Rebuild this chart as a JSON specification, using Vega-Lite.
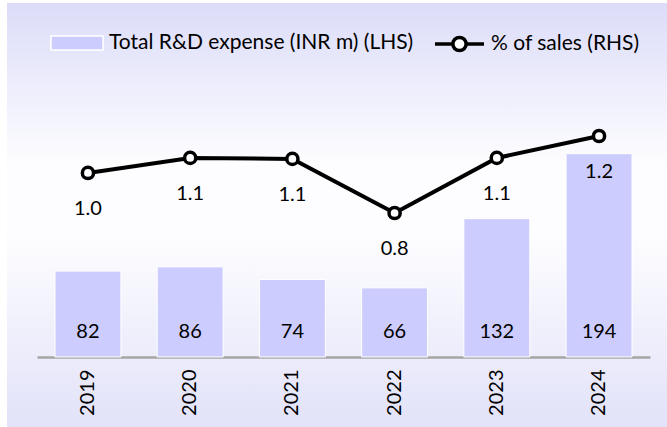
{
  "$schema": "https://vega.github.io/schema/vega-lite/v6.json",
  "width": 660,
  "height": 424,
  "autosize": {"type": "none"},
  "padding": {"left": 7, "top": 3, "right": 0, "bottom": 0},
  "background": "#ffffff",
  "view": {
    "stroke": null,
    "fill": {"expr": "{gradient: 'linear', x1: 0, y1: 0, x2: 0, y2: 1, stops: [{offset: 0, color: '#dcdcf9'}, {offset: 0.38, color: '#fdfdff'}, {offset: 0.55, color: '#fdfdff'}, {offset: 1, color: '#e2e2f9'}]}"}
  },
  "config": {
    "font": "Lato",
    "text": {"font": "Lato", "fontSize": 20, "color": "#000000"},
    "axis": {"labelFont": "Lato"},
    "legend": {"labelFont": "Lato"}
  },
  "data": {
    "values": [
      {"year": "2019", "rd": 82, "pct": 1.008},
      {"year": "2020", "rd": 86, "pct": 1.086},
      {"year": "2021", "rd": 74, "pct": 1.081},
      {"year": "2022", "rd": 66, "pct": 0.8},
      {"year": "2023", "rd": 132, "pct": 1.086},
      {"year": "2024", "rd": 194, "pct": 1.2}
    ]
  },
  "encoding": {
    "x": {
      "field": "year",
      "type": "ordinal",
      "scale": {"range": [30, 643], "paddingInner": 0.355, "paddingOuter": 0.176},
      "axis": {
        "title": null,
        "labelAngle": -90,
        "labelAlign": "right",
        "labelBaseline": "middle",
        "labelFontSize": 20,
        "labelColor": "#000000",
        "labelPadding": 12,
        "ticks": false,
        "domainColor": "#a6a6a6",
        "domainWidth": 2.5,
        "offset": -70,
        "grid": false
      }
    }
  },
  "layer": [
    {
      "mark": {"type": "bar", "stroke": "#ffffff", "strokeWidth": 1},
      "encoding": {
        "y": {"field": "rd", "type": "quantitative", "scale": {"domain": [-66.8, 337.8], "nice": false, "zero": false}, "axis": null},
        "y2": {"datum": 0},
        "fill": {
          "datum": "Total R&D expense (INR m) (LHS)",
          "type": "nominal",
          "scale": {"range": ["#ccccfe"]},
          "legend": {
            "title": null,
            "orient": "none",
            "legendX": 43,
            "legendY": 13,
            "direction": "horizontal",
            "labelFontSize": 21,
            "labelColor": "#000000",
            "labelLimit": 500,
            "labelOffset": 5,
            "symbolType": "M-1,-0.27H1V0.27H-1Z",
            "symbolSize": 2704,
            "symbolStrokeColor": "#ffffff",
            "symbolStrokeWidth": 1.5,
            "symbolOpacity": 1
          }
        }
      }
    },
    {
      "mark": {"type": "text", "baseline": "middle", "align": "center", "dy": -25, "fontSize": 20},
      "encoding": {
        "y": {"datum": 0, "type": "quantitative", "scale": {"domain": [-66.8, 337.8], "nice": false, "zero": false}, "axis": null},
        "text": {"field": "rd", "type": "quantitative", "format": "d"}
      }
    },
    {
      "mark": {"type": "line", "strokeWidth": 4},
      "encoding": {
        "y": {"field": "pct", "type": "quantitative", "scale": {"domain": [-0.312, 1.891], "nice": false, "zero": false}, "axis": null},
        "stroke": {
          "datum": "% of sales (RHS)",
          "type": "nominal",
          "scale": {"range": ["#000000"]},
          "legend": {
            "title": null,
            "orient": "none",
            "legendX": 426,
            "legendY": 14.5,
            "direction": "horizontal",
            "labelFontSize": 21,
            "labelColor": "#000000",
            "labelLimit": 500,
            "labelOffset": 5,
            "symbolType": "M-1,0H-0.27M0.27,0H1M-0.27,0A0.27,0.27 0 1,1 0.27,0A0.27,0.27 0 1,1 -0.27,0Z",
            "symbolSize": 2401,
            "symbolFillColor": "#ffffff",
            "symbolStrokeWidth": 3.5,
            "symbolOpacity": 1
          }
        }
      }
    },
    {
      "mark": {"type": "point", "shape": "circle", "filled": true, "fill": "#ffffff", "stroke": "#000000", "strokeWidth": 3.5, "size": 125, "opacity": 1},
      "encoding": {
        "y": {"field": "pct", "type": "quantitative", "scale": {"domain": [-0.312, 1.891], "nice": false, "zero": false}, "axis": null}
      }
    },
    {
      "mark": {"type": "text", "baseline": "middle", "align": "center", "dy": 36, "fontSize": 20},
      "encoding": {
        "y": {"field": "pct", "type": "quantitative", "scale": {"domain": [-0.312, 1.891], "nice": false, "zero": false}, "axis": null},
        "text": {"field": "pct", "type": "quantitative", "format": ".1f"}
      }
    }
  ],
  "resolve": {"scale": {"y": "independent"}}
}
